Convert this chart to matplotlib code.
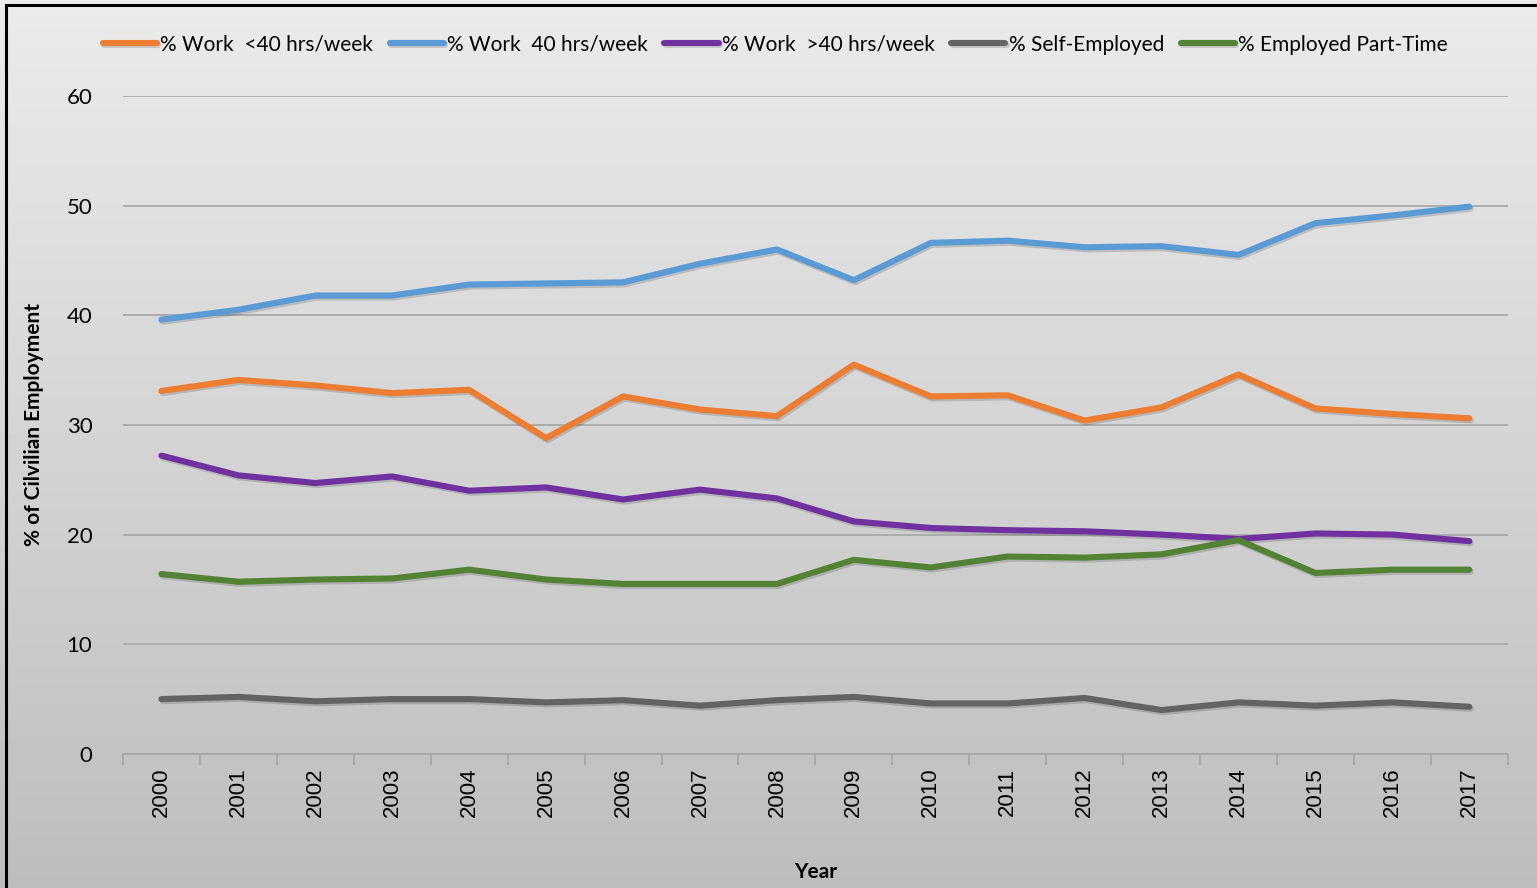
import numpy as np
import matplotlib
matplotlib.use("Agg")
import matplotlib.pyplot as plt
import matplotlib.patheffects as pe
from matplotlib.lines import Line2D

years = list(range(2000, 2018))

under40 = [33.1, 34.1, 33.6, 32.9, 33.2, 28.8, 32.6, 31.4, 30.8, 35.5,
           32.6, 32.7, 30.4, 31.6, 34.6, 31.5, 31.0, 30.6]
exactly40 = [39.6, 40.5, 41.8, 41.8, 42.8, 42.9, 43.0, 44.7, 46.0, 43.2,
             46.6, 46.8, 46.2, 46.3, 45.5, 48.4, 49.1, 49.9]
over40 = [27.2, 25.4, 24.7, 25.3, 24.0, 24.3, 23.2, 24.1, 23.3, 21.2,
          20.6, 20.4, 20.3, 20.0, 19.6, 20.1, 20.0, 19.4]
self_employed = [5.0, 5.2, 4.8, 5.0, 5.0, 4.7, 4.9, 4.4, 4.9, 5.2,
                 4.6, 4.6, 5.1, 4.0, 4.7, 4.4, 4.7, 4.3]
part_time = [16.4, 15.7, 15.9, 16.0, 16.8, 15.9, 15.5, 15.5, 15.5, 17.7,
             17.0, 18.0, 17.9, 18.2, 19.5, 16.5, 16.8, 16.8]

series = [
    ("% Work  <40 hrs/week", under40, "#ed7d31"),
    ("% Work  40 hrs/week", exactly40, "#5b9bd5"),
    ("% Work  >40 hrs/week", over40, "#7030a0"),
    ("% Self-Employed", self_employed, "#636363"),
    ("% Employed Part-Time", part_time, "#548235"),
]

plt.rcParams['font.family'] = ['Lato', 'DejaVu Sans']

fig = plt.figure(figsize=(15.37, 8.88), dpi=100)

# gradient background
bg = fig.add_axes([0, 0, 1, 1], zorder=-10)
grad = np.linspace(0.92, 0.74, 256).reshape(-1, 1)
bg.imshow(grad, cmap="gray", vmin=0, vmax=1, aspect="auto", extent=[0, 1, 0, 1])
bg.set_axis_off()

# black frame on top and left
fig.add_artist(Line2D([0.0036, 0.0036], [0, 0.9943], transform=fig.transFigure, color="black", lw=2.2))
fig.add_artist(Line2D([0.0036, 1], [0.9943, 0.9943], transform=fig.transFigure, color="black", lw=2.2))

ax = fig.add_axes([0.080, 0.151, 0.901, 0.741])
ax.patch.set_alpha(0)

x = np.arange(len(years))
for label, vals, color in series:
    ax.plot(x, vals, color=color, lw=4.4, label=label, solid_capstyle="round",
            path_effects=[pe.SimpleLineShadow(offset=(1, -1.5), alpha=0.15), pe.Normal()])

ax.set_xlim(-0.5, len(years) - 0.5)
ax.set_ylim(0, 60)
ax.set_yticks(range(0, 61, 10))
ax.grid(axis="y", color="#a6a6a6", lw=1.2)
ax.set_axisbelow(True)

ax.set_xticks(x)
ax.set_xticklabels([str(y) for y in years], rotation=90, fontsize=16, family=["Liberation Sans"])
ax.tick_params(axis="x", which="major", length=0, pad=10)
ax.set_xticks(np.arange(-0.5, len(years)), minor=True)
ax.tick_params(axis="x", which="minor", length=8, color="#a6a6a6", width=1.2)
ax.tick_params(axis="y", length=0, labelsize=16, pad=22)

for s in ["top", "right", "left"]:
    ax.spines[s].set_visible(False)
ax.spines["bottom"].set_color("#a6a6a6")
ax.spines["bottom"].set_linewidth(1.2)

ax.set_ylabel("% of Cilvilian Employment", fontsize=15, fontweight="bold", labelpad=16)
ax.set_xlabel("Year", fontsize=15, fontweight="bold", labelpad=32)

ax.legend(loc="center", bbox_to_anchor=(0.471, 1.078), ncol=5, frameon=False,
          fontsize=15, handlelength=2.6, handletextpad=0.15, columnspacing=0.8)

fig.savefig("out.png", dpi=100)
